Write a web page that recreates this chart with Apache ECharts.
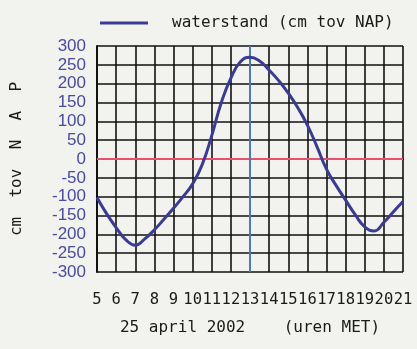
<!DOCTYPE html>
<html>
<head>
<meta charset="utf-8">
<script src="https://cdn.jsdelivr.net/npm/echarts@6/dist/echarts.min.js"></script>
<style>
  html, body { margin: 0; padding: 0; background: #f2f2ee; }
  #chart { width: 417px; height: 349px; }
</style>
</head>
<body>
<div id="chart"></div>
<script>
// Water level at half-hour steps, 25 april 2002
const hours = [5, 5.5, 6, 6.5, 7, 7.5, 8, 8.5, 9, 9.5, 10, 10.5, 11, 11.5, 12, 12.5,
  13, 13.5, 14, 14.5, 15, 15.5, 16, 16.5, 17, 17.5, 18, 18.5, 19, 19.5, 20, 20.5, 21];
const waterstand = [-102, -145, -182, -214, -229, -212, -188, -160, -131, -100, -66, -15,
  62, 150, 215, 258, 270, 260, 236, 208, 175, 136, 90, 33, -27, -70, -109, -148, -180, -191,
  -168, -140, -113];
const xTicks = [5, 21];           // first and last hour on the axis
const yTicks = [-300, 300];       // level range
const nowHour = 13;               // current-time marker
const napLevel = 0;               // NAP reference line

const series = hours.map((h, i) => [h, waterstand[i]]);

const chart = echarts.init(document.getElementById('chart'));
chart.setOption({
  backgroundColor: '#f2f2ee',
  animation: false,
  legend: {
    data: ['waterstand (cm tov NAP)'],
    left: 100, top: 15, padding: 0,
    icon: 'rect', itemWidth: 48, itemHeight: 3, itemGap: 10,
    textStyle: { fontFamily: 'DejaVu Sans Mono', fontSize: 16, color: '#1a1a1a', padding: [0, 0, 0, 19] }
  },
  grid: { left: 97, right: 14, top: 46, bottom: 77, outerBoundsMode: 'none', containLabel: false },
  xAxis: {
    type: 'value', min: xTicks[0], max: xTicks[1], interval: 1,
    name: '25 april 2002    (uren MET)', nameLocation: 'middle', nameGap: 48,
    nameTextStyle: { fontFamily: 'DejaVu Sans Mono', fontSize: 16, color: '#1a1a1a' },
    axisLine: { show: true, lineStyle: { color: '#111', width: 2 } },
    axisTick: { show: false },
    axisLabel: {
      fontFamily: 'DejaVu Sans Mono', fontSize: 15.5, color: '#1a1a1a', margin: 20,
      showMinLabel: true, showMaxLabel: true, hideOverlap: false
    },
    splitLine: { show: true, lineStyle: { color: '#111', width: 1.6 } }
  },
  yAxis: {
    type: 'value', min: yTicks[0], max: yTicks[1], interval: 50,
    name: 'cm  tov  N  A  P', nameLocation: 'middle', nameGap: 72, nameRotate: 90,
    nameTextStyle: { fontFamily: 'DejaVu Sans Mono', fontSize: 16, color: '#1a1a1a' },
    axisLine: { show: true, lineStyle: { color: '#111', width: 2 } },
    axisTick: { show: false },
    axisLabel: {
      fontFamily: "'Liberation Sans', Arial, sans-serif",
      fontSize: 17, color: '#4a4aa6', margin: 11,
      showMinLabel: true, showMaxLabel: true, hideOverlap: false
    },
    splitLine: { show: true, lineStyle: { color: '#111', width: 1.6 } }
  },
  series: [{
    name: 'waterstand (cm tov NAP)',
    type: 'line',
    data: series,
    smooth: 0.5,
    showSymbol: false,
    lineStyle: { color: '#3a3a98', width: 3 },
    itemStyle: { color: '#3a3a98' },
    z: 5,
    markLine: {
      silent: true, symbol: 'none', label: { show: false }, animation: false,
      data: [
        { yAxis: napLevel, lineStyle: { color: '#e8506e', width: 2, type: 'solid' } },
        { xAxis: nowHour, lineStyle: { color: '#4a7ab8', width: 2, type: 'solid' } }
      ]
    }
  }]
});
</script>
</body>
</html>
